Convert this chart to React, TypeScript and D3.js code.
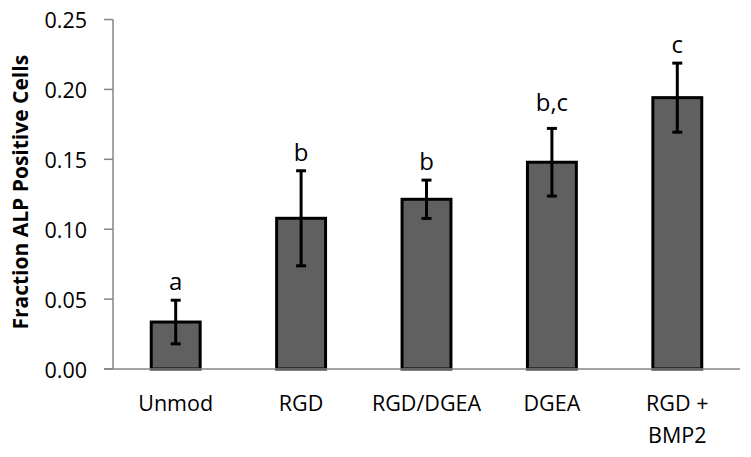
import React from "react";
import * as d3 from "d3";

const categories = ["Unmod", "RGD", "RGD/DGEA", "DGEA", "RGD +\nBMP2"];
const values = [0.0336, 0.1078, 0.1214, 0.1479, 0.1941];
const errors = [0.0156, 0.034, 0.0137, 0.0242, 0.0247];
const sigLabels = ["a", "b", "b", "b,c", "c"];
const yTicks = [0, 0.05, 0.1, 0.15, 0.2, 0.25];

const W = 751;
const H = 457;
const left = 113;
const right = 740;
const top = 19.5;
const bottom = 369;
const FONT = "'Open Sans', 'DejaVu Sans', sans-serif";

export default function App() {
  const x = d3.scaleBand<string>().domain(categories).range([left, right]).padding(0);
  const y = d3.scaleLinear().domain([0, 0.25]).range([bottom, top]);
  const barW = x.bandwidth() * 0.39;
  const axisColor = "#868686";

  return (
    <svg
      width={W}
      height={H}
      style={{ position: "absolute", left: 0, top: 0, display: "block", background: "#fff" }}
    >
      {/* y axis */}
      <line x1={left} x2={left} y1={top} y2={bottom} stroke={axisColor} strokeWidth={1.5} />
      {yTicks.map((t) => (
        <g key={t}>
          <line x1={left - 9} x2={left} y1={y(t)} y2={y(t)} stroke={axisColor} strokeWidth={1.5} />
          <text
            x={87}
            y={y(t)}
            textAnchor="end"
            dominantBaseline="central"
            fontFamily={FONT}
            fontSize={21.5}
            fill="#000"
          >
            {d3.format(".2f")(t)}
          </text>
        </g>
      ))}
      {/* y axis title */}
      <text
        transform={`translate(28, ${(top + bottom) / 2 - 2}) rotate(-90)`}
        textAnchor="middle"
        fontFamily={FONT}
        fontWeight="bold"
        fontSize={21}
        fill="#000"
      >
        Fraction ALP Positive Cells
      </text>

      {/* bars */}
      {categories.map((c, i) => {
        const cx = (x(c) as number) + x.bandwidth() / 2;
        const v = values[i];
        return (
          <g key={c}>
            <rect
              x={cx - barW / 2}
              y={y(v)}
              width={barW}
              height={y(0) - y(v)}
              fill="#606060"
              stroke="#000"
              strokeWidth={3}
            />
          </g>
        );
      })}

      {/* x axis */}
      <line x1={left - 9} x2={right} y1={bottom} y2={bottom} stroke={axisColor} strokeWidth={1.5} />

      {/* error bars and labels */}
      {categories.map((c, i) => {
        const cx = (x(c) as number) + x.bandwidth() / 2;
        const v = values[i];
        const e = errors[i];
        const yt = y(v + e);
        const yb = y(v - e);
        return (
          <g key={"e" + c}>
            <line x1={cx} x2={cx} y1={yt} y2={yb} stroke="#000" strokeWidth={3} />
            <line x1={cx - 5} x2={cx + 5} y1={yt} y2={yt} stroke="#000" strokeWidth={3} />
            <line x1={cx - 5} x2={cx + 5} y1={yb} y2={yb} stroke="#000" strokeWidth={3} />
            <text
              x={cx}
              y={yt - (sigLabels[i].includes(",") ? 17 : 10)}
              textAnchor="middle"
              fontFamily={FONT}
              fontSize={24}
              fill="#000"
            >
              {sigLabels[i]}
            </text>
          </g>
        );
      })}

      {/* category labels */}
      {categories.map((c) => {
        const cx = (x(c) as number) + x.bandwidth() / 2;
        const lines = c.split("\n");
        return (
          <text key={"l" + c} textAnchor="middle" fontFamily={FONT} fontSize={21.5} fill="#000">
            {lines.map((ln, j) => (
              <tspan key={j} x={cx} y={411 + j * 32}>
                {ln}
              </tspan>
            ))}
          </text>
        );
      })}
    </svg>
  );
}
